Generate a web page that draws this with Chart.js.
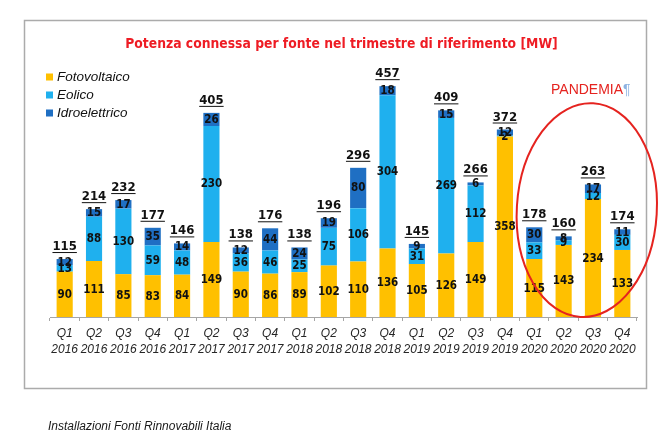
<!DOCTYPE html>
<html><head><meta charset="utf-8">
<script src="https://cdn.jsdelivr.net/npm/chart.js@4"></script>
<style>
html,body{margin:0;padding:0;background:#fff;width:668px;height:437px;overflow:hidden}
#wrap{position:relative;width:668px;height:437px}
canvas{position:absolute;left:0;top:0}
#cap{position:absolute;left:48px;top:419px;font:italic 12px "Liberation Sans",Arial,sans-serif;color:#1a1a1a;white-space:nowrap}
</style></head><body>
<div id="wrap"><canvas id="c" width="668" height="437"></canvas><div id="cap">Installazioni Fonti Rinnovabili Italia</div></div>
<script>
const quarters = ['Q1','Q2','Q3','Q4','Q1','Q2','Q3','Q4','Q1','Q2','Q3','Q4','Q1','Q2','Q3','Q4','Q1','Q2','Q3','Q4'];
const years = ['2016','2016','2016','2016','2017','2017','2017','2017','2018','2018','2018','2018','2019','2019','2019','2019','2020','2020','2020','2020'];
const fotovoltaico = [90,111,85,83,84,149,90,86,89,102,110,136,105,126,149,358,115,143,234,133];
const eolico = [13,88,130,59,48,230,36,46,25,75,106,304,31,269,112,2,33,9,12,30];
const idroelettrico = [12,15,17,35,14,26,12,44,24,19,80,18,9,15,6,12,30,8,17,11];
const totals = [115,214,232,177,146,405,138,176,138,196,296,457,145,409,266,372,178,160,263,174];
const seriesNames = ['Fotovoltaico','Eolico','Idroelettrico'];
const titleText = 'Potenza connessa per fonte nel trimestre di riferimento [MW]';
const noteText = 'PANDEMIA';
const noteMark = '\u00B6';
const highlightFrom = 16, highlightTo = 19;

const colors = ['#FFC000','#1FB0EE','#1F6FC3'];
const labels = quarters.map((q,i)=>[q, years[i]]);
const NARROW = '"Liberation Sans Narrow","DejaVu Sans Condensed","Liberation Sans",Arial,sans-serif';
const SANS = '"Liberation Sans",Arial,sans-serif';

const decor = {
  id:'decor',
  beforeDraw(chart){
    const ctx = chart.ctx;
    ctx.save();
    ctx.fillStyle='#fff'; ctx.fillRect(0,0,chart.width,chart.height);
    ctx.strokeStyle='#ABABAB'; ctx.lineWidth=1.5;
    ctx.strokeRect(24.5,20.5,622,368);
    // title
    let fs = 17;
    ctx.font = 'bold '+fs+'px '+NARROW;
    let w = ctx.measureText(titleText).width;
    fs = fs*433/w;
    ctx.font = 'bold '+fs.toFixed(2)+'px '+NARROW;
    ctx.fillStyle='#EE1C24'; ctx.textAlign='center'; ctx.textBaseline='middle';
    ctx.fillText(titleText, 341.5, 44.5);
    // legend
    ctx.font = 'italic 13.5px '+SANS;
    ctx.textAlign='left';
    chart.data.datasets.forEach((ds,i)=>{
      const y = 77 + i*18;
      ctx.fillStyle = ds.backgroundColor;
      ctx.fillRect(46, y-3.5, 7, 7);
      ctx.fillStyle = '#111';
      ctx.fillText(ds.label, 57, y+0.5);
    });
    ctx.restore();
  },
  afterDatasetsDraw(chart){
    const ctx = chart.ctx;
    ctx.save();
    ctx.textAlign='center'; ctx.textBaseline='middle';
    ctx.fillStyle='#111';
    ctx.font='bold 11.5px '+NARROW;
    chart.data.datasets.forEach((ds,i)=>{
      const meta = chart.getDatasetMeta(i);
      meta.data.forEach((el,j)=>{
        ctx.fillText(String(ds.data[j]), el.x, (el.y+el.base)/2 + 0.5);
      });
    });
    // totals
    const top = chart.getDatasetMeta(chart.data.datasets.length-1);
    ctx.font='bold 13px '+NARROW;
    ctx.textBaseline='alphabetic';
    ctx.strokeStyle='#111'; ctx.lineWidth=1;
    top.data.forEach((el,j)=>{
      const t = String(totals[j]);
      const by = el.y - 9;
      ctx.fillText(t, el.x, by);
      const tw = ctx.measureText(t).width;
      ctx.beginPath();
      ctx.moveTo(el.x - tw/2, by+2.5); ctx.lineTo(el.x + tw/2, by+2.5);
      ctx.stroke();
    });
    // highlight ellipse
    const xs = chart.scales.x, ys = chart.scales.y;
    const cx = (xs.getPixelForValue(highlightFrom)+xs.getPixelForValue(highlightTo))/2 + 8.5;
    const cy = ys.getPixelForValue(212);
    ctx.strokeStyle='#E5231F'; ctx.lineWidth=2;
    ctx.beginPath();
    ctx.ellipse(cx, cy, 70, 107, 0.06, 0, Math.PI*2);
    ctx.stroke();
    ctx.font='14px '+SANS;
    ctx.textAlign='left'; ctx.textBaseline='middle';
    ctx.fillStyle='#E5231F';
    ctx.fillText(noteText, 551, 90);
    const nw = ctx.measureText(noteText).width;
    ctx.fillStyle='#8DB3E2';
    ctx.fillText(noteMark, 551+nw, 90);
    ctx.restore();
  }
};

new Chart(document.getElementById('c'), {
  type:'bar',
  data:{
    labels: labels,
    datasets:[
      {label:seriesNames[0], data:fotovoltaico, backgroundColor:colors[0]},
      {label:seriesNames[1], data:eolico, backgroundColor:colors[1]},
      {label:seriesNames[2], data:idroelettrico, backgroundColor:colors[2]}
    ]
  },
  options:{
    responsive:false, animation:false,
    devicePixelRatio:1,
    layout:{padding:{left:50,right:31,top:65,bottom:0}},
    datasets:{bar:{categoryPercentage:1, barPercentage:0.55, borderWidth:0}},
    plugins:{legend:{display:false}, title:{display:false}, tooltip:{enabled:false}},
    scales:{
      x:{stacked:true,
        grid:{offset:true, drawOnChartArea:false, drawTicks:true, tickLength:4, color:'#A6A6A6'},
        border:{display:true, color:'#A6A6A6', width:1},
        ticks:{autoSkip:false, maxRotation:0, minRotation:0, padding:5, color:'#262626',
          font:{family:SANS, size:12, style:'italic', lineHeight:1.3334}},
        afterFit(s){ s.height = 120; }
      },
      y:{stacked:true, display:false, min:0, max:500}
    }
  },
  plugins:[decor]
});
</script>
</body></html>
